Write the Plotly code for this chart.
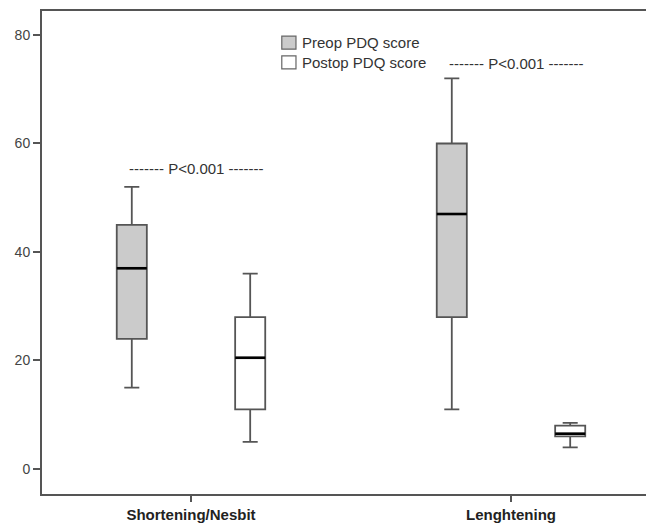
import plotly.graph_objects as go

# ---- data ----
categories = ["Shortening/Nesbit", "Lenghtening"]
series_names = ["Preop PDQ score", "Postop PDQ score"]

preop_min = [15, 11]
preop_q1 = [24, 28]
preop_median = [37, 47]
preop_q3 = [45, 60]
preop_max = [52, 72]

postop_min = [5, 4]
postop_q1 = [11, 6]
postop_median = [20.5, 6.5]
postop_q3 = [28, 8]
postop_max = [36, 8.5]

p_labels = ["------- P<0.001 -------", "------- P<0.001 -------"]
p_label_y = [55.3, 74.8]

y_ticks = [0, 20, 40, 60, 80]

# ---- styling ----
FONT = "Liberation Sans, Arial, sans-serif"
AXIS_COLOR = "#555555"
TEXT_COLOR = "#333333"
PREOP_FILL = "#cbcbcb"
POSTOP_FILL = "#ffffff"
BOX_LINE = "#555555"

cat_pos = list(range(len(categories)))
offset = 0.185
box_w = 0.094

pre_x = [p - offset for p in cat_pos]
post_x = [p + offset for p in cat_pos]

fig = go.Figure()

def add_box(xs, mins, q1, med, q3, maxs, fill, name):
    fig.add_trace(go.Box(
        x=xs, q1=q1, median=med, q3=q3, lowerfence=mins, upperfence=maxs,
        name=name, width=box_w, whiskerwidth=0.5, boxpoints=False,
        fillcolor=fill, line=dict(color=BOX_LINE, width=1.8),
        showlegend=False, hoverinfo="skip",
    ))
    # thicker black median line
    mx, my = [], []
    for x, m in zip(xs, med):
        mx += [x - box_w / 2, x + box_w / 2, None]
        my += [m, m, None]
    fig.add_trace(go.Scatter(
        x=mx, y=my, mode="lines", line=dict(color="#000000", width=2.6),
        showlegend=False, hoverinfo="skip",
    ))

add_box(pre_x, preop_min, preop_q1, preop_median, preop_q3, preop_max, PREOP_FILL, series_names[0])
add_box(post_x, postop_min, postop_q1, postop_median, postop_q3, postop_max, POSTOP_FILL, series_names[1])

# P-value annotations
for p, txt, y in zip(cat_pos, p_labels, p_label_y):
    fig.add_annotation(x=p + 0.018, y=y, xref="x", yref="y", text=txt,
                       showarrow=False, font=dict(family=FONT, size=15, color=TEXT_COLOR))

# manual legend (squares + labels) in paper coordinates
legend_fills = [PREOP_FILL, POSTOP_FILL]
leg_rows = [(0.948, 0.921), (0.907, 0.880)]
for fill, name, (ytop, ybot) in zip(legend_fills, series_names, leg_rows):
    fig.add_shape(type="rect", xref="paper", yref="paper",
                  x0=0.397, x1=0.4205, y0=ybot, y1=ytop,
                  fillcolor=fill, line=dict(color="#666666", width=1.2))
    fig.add_annotation(x=0.4272, y=(ytop + ybot) / 2, xref="paper", yref="paper",
                       text=name, showarrow=False, xanchor="left", yanchor="middle",
                       font=dict(family=FONT, size=15, color=TEXT_COLOR))

fig.update_layout(
    width=646, height=524,
    margin=dict(l=42, r=0, t=11, b=30, autoexpand=False),
    paper_bgcolor="white", plot_bgcolor="white",
    showlegend=False,
    font=dict(family=FONT, size=14, color=TEXT_COLOR),
    xaxis=dict(
        range=[-0.4656, 1.4219],
        tickvals=cat_pos, ticktext=categories,
        ticks="outside", ticklen=6, tickwidth=1.5, tickcolor=AXIS_COLOR,
        tickfont=dict(family=FONT, size=15, color="#222222", weight="bold"),
        showline=True, linecolor=AXIS_COLOR, linewidth=2, mirror=True,
        showgrid=False, zeroline=False, automargin=False,
    ),
    yaxis=dict(
        range=[-4.61, 84.42],
        tickvals=y_ticks,
        ticks="outside", ticklen=7, tickwidth=1.5, tickcolor=AXIS_COLOR,
        tickfont=dict(family=FONT, size=14, color="#444444"),
        showline=True, linecolor=AXIS_COLOR, linewidth=2,
        showgrid=False, zeroline=False, automargin=False,
    ),
)

fig.write_html(
    "out.html",
    config={"displayModeBar": False},
    post_script="document.body.style.margin='0';document.body.style.padding='0';",
)
